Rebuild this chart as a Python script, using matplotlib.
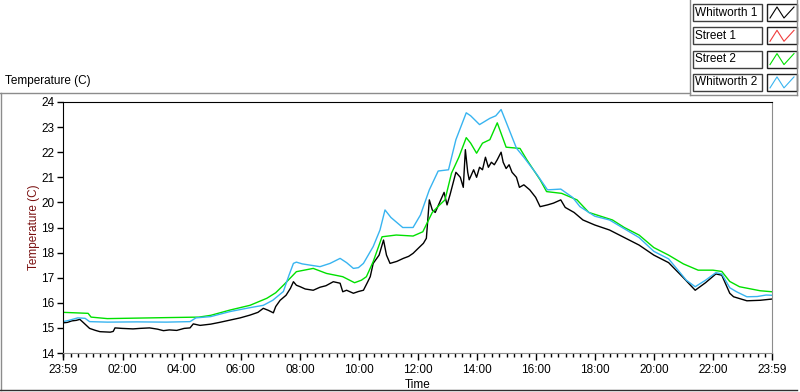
import matplotlib
matplotlib.use('Agg')
import matplotlib.pyplot as plt
from matplotlib.lines import Line2D
from matplotlib.patches import Rectangle

plt.rcParams['font.family'] = ['Liberation Sans', 'DejaVu Sans']

# Data: hours since 23:59, temperature in C
w1_t = [0.0, 0.15, 0.3, 0.45, 0.57, 0.7, 0.9, 1.1, 1.25, 1.6, 1.7, 1.76, 2.0, 2.37, 2.6,
        2.93, 3.2, 3.4, 3.6, 3.85, 4.1, 4.3, 4.41, 4.64, 5.0, 5.3, 5.65, 6.0, 6.33, 6.6,
        6.78, 6.95, 7.12, 7.2, 7.35, 7.55, 7.7, 7.8, 7.9, 8.03, 8.2, 8.47, 8.7, 8.9, 9.15,
        9.38, 9.47, 9.6, 9.83, 10.0, 10.17, 10.3, 10.4, 10.5, 10.7, 10.85, 10.95, 11.07,
        11.3, 11.52, 11.7, 11.85, 12.05, 12.2, 12.3, 12.4, 12.5, 12.6, 12.75, 12.9, 13.0,
        13.1, 13.3, 13.45, 13.55, 13.62, 13.7, 13.75, 13.9, 14.0, 14.1, 14.2, 14.3, 14.4,
        14.5, 14.6, 14.7, 14.83, 14.9, 15.0, 15.1, 15.2, 15.35, 15.45, 15.6, 15.8, 16.0,
        16.15, 16.4, 16.6, 16.85, 17.0, 17.3, 17.6, 18.0, 18.5, 19.0, 19.5, 20.0, 20.5,
        21.0, 21.4, 21.75, 22.1, 22.3, 22.57, 22.7, 23.15, 23.6, 24.0]
w1_v = [15.2, 15.22, 15.28, 15.3, 15.34, 15.2, 14.98, 14.9, 14.85, 14.83, 14.86, 15.0, 14.98,
        14.96, 14.98, 15.0, 14.95, 14.89, 14.92, 14.9, 14.98, 15.0, 15.16, 15.1, 15.15, 15.22,
        15.31, 15.4, 15.51, 15.62, 15.78, 15.7, 15.6, 15.85, 16.1, 16.3, 16.58, 16.84, 16.7,
        16.64, 16.55, 16.5, 16.62, 16.68, 16.84, 16.78, 16.44, 16.5, 16.38, 16.45, 16.5, 16.8,
        17.04, 17.57, 17.9, 18.5, 17.9, 17.57, 17.65, 17.77, 17.85, 17.97, 18.2, 18.37, 18.57,
        20.1, 19.7, 19.6, 20.0, 20.4, 19.9, 20.3, 21.2, 21.0, 20.6, 22.1, 21.2, 20.9, 21.3,
        21.0, 21.4, 21.3, 21.8, 21.4, 21.6, 21.5, 21.7, 22.0, 21.6, 21.35, 21.5, 21.2, 21.0,
        20.6, 20.7, 20.5, 20.2, 19.83, 19.9, 19.97, 20.1, 19.8, 19.6, 19.3, 19.1, 18.9, 18.6,
        18.3, 17.9, 17.6, 17.0, 16.5, 16.8, 17.15, 17.1, 16.38, 16.24, 16.08, 16.1, 16.15]

# Street 1 has no visible data in the chart
s1_t = []
s1_v = []

s2_t = [0.0, 0.85, 0.95, 1.5, 2.5, 3.5, 4.6, 5.0, 5.65, 6.33, 6.9, 7.2, 7.46, 7.9, 8.47, 8.92,
        9.47, 9.87, 10.1, 10.27, 10.5, 10.8, 11.28, 11.85, 12.18, 12.5, 12.75, 12.93, 13.15,
        13.4, 13.65, 13.8, 14.0, 14.2, 14.45, 14.7, 15.0, 15.47, 15.7, 16.15, 16.37, 16.88,
        17.4, 17.8, 18.2, 18.6, 19.0, 19.5, 20.0, 20.5, 21.0, 21.5, 22.0, 22.3, 22.57, 22.9,
        23.6, 24.0]
s2_v = [15.62, 15.58, 15.43, 15.37, 15.39, 15.41, 15.43, 15.5, 15.71, 15.9, 16.18, 16.4, 16.7,
        17.24, 17.37, 17.17, 17.04, 16.8, 16.9, 17.04, 17.64, 18.63, 18.7, 18.66, 18.83, 19.6,
        19.9, 20.1, 21.16, 21.8, 22.58, 22.36, 21.96, 22.36, 22.5, 23.17, 22.2, 22.15, 21.7,
        20.9, 20.43, 20.36, 20.1, 19.6, 19.45, 19.3, 19.0, 18.7, 18.2, 17.9, 17.55, 17.3, 17.3,
        17.25, 16.85, 16.64, 16.48, 16.44]

w2_t = [0.0, 0.2, 0.5, 0.75, 0.9, 1.5, 2.5, 3.5, 4.3, 4.5, 5.0, 5.65, 6.3, 6.78, 7.1, 7.46,
        7.65, 7.8, 7.9, 8.1, 8.37, 8.7, 9.04, 9.38, 9.6, 9.83, 10.0, 10.17, 10.5, 10.73, 10.9,
        11.1, 11.5, 11.85, 12.1, 12.4, 12.7, 13.05, 13.3, 13.65, 13.8, 14.1, 14.45, 14.65,
        14.83, 15.0, 15.35, 15.6, 16.05, 16.4, 16.85, 17.25, 17.5, 18.0, 18.5, 19.0, 19.5,
        20.0, 20.5, 21.1, 21.4, 21.75, 22.1, 22.3, 22.57, 22.8, 23.15, 23.5, 23.8, 24.0]
w2_v = [15.25, 15.3, 15.4, 15.38, 15.25, 15.23, 15.24, 15.23, 15.25, 15.4, 15.45, 15.65, 15.8,
        15.9, 16.1, 16.45, 17.1, 17.57, 17.62, 17.55, 17.5, 17.44, 17.57, 17.77, 17.6, 17.37,
        17.4, 17.57, 18.24, 18.9, 19.7, 19.4, 19.0, 19.0, 19.5, 20.5, 21.25, 21.3, 22.5, 23.57,
        23.45, 23.1, 23.35, 23.45, 23.7, 23.2, 22.16, 21.8, 21.1, 20.5, 20.53, 20.2, 19.83,
        19.45, 19.3, 18.95, 18.6, 18.05, 17.75, 16.9, 16.64, 16.9, 17.2, 17.15, 16.6, 16.44,
        16.24, 16.25, 16.31, 16.3]

names = ['Whitworth 1', 'Street 1', 'Street 2', 'Whitworth 2']
colors = ['#000000', '#f03c3c', '#00e000', '#38b4f0']

x_labels = ['23:59', '02:00', '04:00', '06:00', '08:00', '10:00', '12:00',
            '14:00', '16:00', '18:00', '20:00', '22:00', '23:59']

W, H = 800, 392


def fx(x):
    return x / W


def fy(y):
    return 1 - y / H


fig = plt.figure(figsize=(8, 3.92), dpi=100)
ax = fig.add_axes([fx(63), fy(353), fx(772) - fx(63), fy(102) - fy(353)])

series = [(w1_t, w1_v), (s1_t, s1_v), (s2_t, s2_v), (w2_t, w2_v)]
for (t, v), c in zip(series, colors):
    ax.plot(t, v, color=c, lw=1.0)

ax.set_xlim(0, 24)
ax.set_ylim(14, 24)
ax.set_yticks(range(14, 25))
ax.tick_params(axis='y', direction='out', length=4, width=1, pad=2, labelsize=8.5)

# major ticks on even clock hours, minor every 15 min (start is 23:59)
off = 1 / 60
major = [0] + [2 * k + off for k in range(1, 12)] + [24]
ax.set_xticks(major)
ax.set_xticklabels(x_labels)
ax.set_xticks([off + 0.25 * k for k in range(96)], minor=True)
ax.tick_params(axis='x', which='major', direction='out', length=5, width=1, pad=3, labelsize=8.5)
ax.tick_params(axis='x', which='minor', direction='out', length=3, width=1)

for s in ['top', 'left']:
    ax.spines[s].set_color('black')
for s in ['bottom', 'right']:
    ax.spines[s].set_color('#8c8c8c')

ax.set_xlabel('Time', fontsize=8.5, labelpad=2)
ax.set_ylabel('Temperature (C)', fontsize=8.5, color='#7a1010', labelpad=1)

# chart title and frame
fig.text(fx(5), fy(81), 'Temperature (C)', fontsize=8.5, va='center', ha='left')
gray = '#8c8c8c'
fig.add_artist(Line2D([fx(0), fx(690)], [fy(93), fy(93)], color=gray, lw=1))
fig.add_artist(Line2D([fx(0.5), fx(0.5)], [fy(93), fy(390)], color=gray, lw=1))
fig.add_artist(Line2D([fx(0), fx(797)], [fy(390), fy(390)], color='#303030', lw=1))

# legend panel
fig.add_artist(Line2D([fx(690), fx(690)], [fy(0), fy(95)], color=gray, lw=1))
fig.add_artist(Line2D([fx(690), fx(797)], [fy(95), fy(95)], color=gray, lw=1))
fig.add_artist(Line2D([fx(797), fx(797)], [fy(0), fy(95)], color=gray, lw=1))

for i, (name, c) in enumerate(zip(names, colors)):
    top = 4 + i * 23.3
    bot = top + 17
    fig.add_artist(Rectangle((fx(693), fy(bot)), fx(762) - fx(693), fy(top) - fy(bot),
                             fill=False, ec='#404040', lw=1))
    fig.text(fx(695), fy((top + bot) / 2), name, fontsize=8.5, va='center', ha='left')
    fig.add_artist(Rectangle((fx(767), fy(bot)), fx(797) - fx(767), fy(top) - fy(bot),
                             fill=False, ec='#202020', lw=1))
    zx = [770, 777, 784, 794]
    zy = [bot - 3, top + 3, bot - 3, top + 3]
    fig.add_artist(Line2D([fx(v) for v in zx], [fy(v) for v in zy], color=c, lw=0.8))

fig.savefig('out.png', dpi=100)
